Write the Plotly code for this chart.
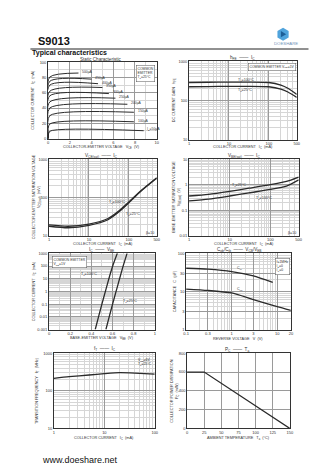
import math
import plotly.graph_objects as go

W, H = 336, 474

# ---- Static characteristic: IC vs VCE for each base current ----
static_ib_ua = [50, 100, 150, 200, 250, 300, 350, 400, 450, 500]
static_vce_knee = [0.15] * 10
static_ic_knee = [9.5, 19, 30, 40, 48, 56, 62, 70, 75, 80.6]
static_vce_end = [8.8, 7.9, 7.9, 7.3, 6.2, 5.6, 5.0, 4.6, 4.0, 2.8]
static_ic_end = [10.3, 22, 34.5, 45, 53, 59, 67, 72, 78, 86]

# ---- hFE vs IC ----
hfe_ic = [1, 3, 10, 30, 100, 200, 300, 500]
hfe_100c = [288, 292, 295, 295, 288, 247, 205, 143]
hfe_25c = [224, 227, 230, 230, 224, 195, 165, 120]

# ---- VCE(sat) vs IC ----
vcesat_ic = [1, 3, 10, 30, 60, 100, 200, 500]
vcesat_25c = [17.5, 16, 18.5, 26, 44, 72, 145, 320]
vcesat_100c = [19, 17.5, 20, 28, 47, 76, 150, 330]

# ---- VBE(sat) vs IC ----
vbesat_ic = [1, 3, 10, 30, 100, 250, 500]
vbesat_25c = [0.36, 0.42, 0.55, 0.73, 1.0, 1.35, 2.0]
vbesat_100c = [0.23, 0.27, 0.36, 0.48, 0.65, 0.88, 1.55]

# ---- IC vs VBE ----
icvbe_ic = [0.001, 0.01, 0.1, 1, 10, 100, 1000]
icvbe_vbe_100c = [0.437, 0.468, 0.500, 0.533, 0.566, 0.602, 0.646]
icvbe_vbe_25c = [0.538, 0.569, 0.601, 0.634, 0.667, 0.701, 0.738]

# ---- Capacitance vs reverse voltage ----
cib_v = [0.1, 0.3, 1, 3, 8]
cib_pf = [40.6, 38.3, 33.3, 25.6, 17.2]
cob_v = [0.1, 0.3, 1, 3, 10, 20]
cob_pf = [11.5, 10.6, 9.1, 6.1, 4.0, 3.2]

# ---- fT vs IC ----
ft_ic = [1, 2, 5, 10, 20, 40, 100]
ft_mhz = [215, 238, 264, 286, 304, 297, 280]

# ---- PC vs Ta ----
pc_ta = [0, 25, 150]
pc_mw = [600, 600, 0]

# tick labels
lin_vce_ticks = [0, 2, 4, 6, 8, 10]
lin_ic_ticks = [0, 20, 40, 60, 80, 100]
log_ic_ticks = [1, 10, 100, 500]
log_gain_ticks = [10, 100, 1000]
log_vcesat_ticks = [10, 100, 1000]
log_vbesat_ticks = [0.01, 0.1, 1, 10]
vbe_ticks = [0, 0.2, 0.4, 0.6, 0.8, 1.0]
log_icvbe_ticks = [0.001, 0.01, 0.1, 1, 10, 100, 1000]
cap_v_ticks = [0.1, 0.3, 1, 3, 10, 20]
cap_pf_ticks = [1, 3, 10, 30, 100]
ft_ic_ticks = [1, 10, 100]
ft_ticks = [10, 100, 1000]
ta_ticks = [0, 25, 50, 75, 100, 125, 150]
pc_ticks = [0, 200, 400, 600, 800]

FONT = "Arial, Liberation Sans, sans-serif"
TXT = "#333333"
LINE = "#2a2a2a"
GRID_MAJ = "#9a9a9a"
GRID_MIN = "#d6d6d6"


def px(x):
    return x / W


def py(y):
    return 1 - y / H


def fmt(v):
    return "%g" % v


def axis(dom, rng, vals, log=False, minor=None):
    d = dict(
        domain=dom, range=rng, tickmode="array", tickvals=vals,
        ticktext=[fmt(v) for v in vals], showgrid=True, gridcolor=GRID_MAJ,
        gridwidth=0.6, showline=True, mirror=True, linecolor="#333333",
        linewidth=0.8, zeroline=False, ticks="", ticklen=0,
        tickfont=dict(size=4, family=FONT, color=TXT),
        fixedrange=True,
    )
    if log:
        d["type"] = "log"
        d["minor"] = dict(dtick="D1", showgrid=True, gridcolor=GRID_MIN,
                          gridwidth=0.4, ticks="")
    elif minor:
        d["minor"] = dict(dtick=minor, showgrid=True, gridcolor=GRID_MIN,
                          gridwidth=0.4, ticks="")
    return d


L10 = math.log10

# plot boxes (left, right, top, bottom) in pixels
boxes = {
    1: (46, 157, 60, 137),
    2: (190, 300, 59, 138),
    3: (47, 157, 158, 235),
    4: (190, 302, 158, 235),
    5: (47, 155, 253, 330),
    6: (187, 294, 253, 330),
    7: (52, 155, 354, 430),
    8: (188, 293, 354, 430),
}


def dom(i):
    l, r, t, b = boxes[i]
    return [px(l), px(r)], [py(b), py(t)]


layout = dict(
    width=W, height=H, margin=dict(l=0, r=0, t=0, b=0),
    paper_bgcolor="white", plot_bgcolor="white", showlegend=False,
    font=dict(family=FONT, color=TXT),
)

xr = {
    1: ([0, 10], lin_vce_ticks, False, 1),
    2: ([0, L10(500)], log_ic_ticks, True, None),
    3: ([0, L10(500)], log_ic_ticks, True, None),
    4: ([0, L10(500)], log_ic_ticks, True, None),
    5: ([0, 1.0], vbe_ticks, False, 0.1),
    6: ([-1, L10(20)], cap_v_ticks, True, None),
    7: ([0, 2], ft_ic_ticks, True, None),
    8: ([0, 150], ta_ticks, False, None),
}
yr = {
    1: ([0, 100], lin_ic_ticks, False, 10),
    2: ([1, 3], log_gain_ticks, True, None),
    3: ([1, 3], log_vcesat_ticks, True, None),
    4: ([-2, 1], log_vbesat_ticks, True, None),
    5: ([-3, 3], log_icvbe_ticks, True, None),
    6: ([0, 2], cap_pf_ticks, True, None),
    7: ([1, 3], ft_ticks, True, None),
    8: ([0, 800], pc_ticks, False, None),
}

for i in range(1, 9):
    dx, dy = dom(i)
    xa = axis(dx, xr[i][0], xr[i][1], log=xr[i][2], minor=xr[i][3])
    ya = axis(dy, yr[i][0], yr[i][1], log=yr[i][2], minor=yr[i][3])
    xa["anchor"] = "y" if i == 1 else "y%d" % i
    ya["anchor"] = "x" if i == 1 else "x%d" % i
    layout["xaxis" if i == 1 else "xaxis%d" % i] = xa
    layout["yaxis" if i == 1 else "yaxis%d" % i] = ya

fig = go.Figure(layout=layout)


def ref(i):
    return ("x", "y") if i == 1 else ("x%d" % i, "y%d" % i)


def line(i, x, y, w=1.3):
    xa, ya = ref(i)
    fig.add_trace(go.Scatter(x=x, y=y, mode="lines", xaxis=xa, yaxis=ya,
                             line=dict(color=LINE, width=w, shape="spline",
                                       smoothing=0.6),
                             hoverinfo="skip"))


# static characteristic curves
for k in range(len(static_ib_ua)):
    line(1, [0, static_vce_knee[k], static_vce_end[k]],
         [0, static_ic_knee[k], static_ic_end[k]], w=1.0)

line(2, hfe_ic, hfe_100c)
line(2, hfe_ic, hfe_25c)
line(3, vcesat_ic, vcesat_100c)
line(3, vcesat_ic, vcesat_25c)
line(4, vbesat_ic, vbesat_25c)
line(4, vbesat_ic, vbesat_100c)
line(5, icvbe_vbe_100c, icvbe_ic)
line(5, icvbe_vbe_25c, icvbe_ic)
line(6, cib_v, cib_pf)
line(6, cob_v, cob_pf)
line(7, ft_ic, ft_mhz)
xa8, ya8 = ref(8)
fig.add_trace(go.Scatter(x=pc_ta, y=pc_mw, mode="lines", xaxis=xa8, yaxis=ya8,
                         line=dict(color=LINE, width=1.3), hoverinfo="skip"))

anns = []


def note(x, y, text, size=4.5, **kw):
    d = dict(x=px(x), y=py(y), xref="paper", yref="paper", text=text,
             showarrow=False, xanchor="center", yanchor="middle",
             font=dict(size=size, family=FONT, color=TXT))
    d.update(kw)
    anns.append(d)


def dnote(i, x, y, text, size=3.6, **kw):
    xa, ya = ref(i)
    d = dict(x=x, y=y, xref=xa, yref=ya, text=text, showarrow=False,
             xanchor="center", yanchor="middle",
             font=dict(size=size, family=FONT, color=TXT))
    d.update(kw)
    anns.append(d)


# header
note(34, 38.5, "<b>S9013</b>", xanchor="left",
     font=dict(size=11, family=FONT, color="#111"))
note(28, 50.7, "<b>Typical characteristics</b>", xanchor="left",
     font=dict(size=7, family=FONT, color="#111"))
note(289.5, 41.2, "DOESHARE", font=dict(size=4.3, family=FONT, color="#6f93b8"))
note(38, 461.5, "www.doeshare.net", xanchor="left",
     font=dict(size=9, family=FONT, color="#111"))

# chart titles
titles = {
    1: (100, 57, "Static Characteristic"),
    2: (245, 55.5, "h<sub>FE</sub>  ——  I<sub>C</sub>"),
    3: (101, 154.5, "V<sub>CE(sat)</sub>  ——  I<sub>C</sub>"),
    4: (246, 154.5, "V<sub>BE(sat)</sub>  ——  I<sub>C</sub>"),
    5: (101, 250, "I<sub>C</sub>  ——  V<sub>BE</sub>"),
    6: (242, 249.5, "C<sub>ob</sub>/C<sub>ib</sub>  ——  V<sub>CB</sub>/V<sub>EB</sub>"),
    7: (104, 350, "f<sub>T</sub>  ——  I<sub>C</sub>"),
    8: (239, 350.5, "P<sub>C</sub>  ——  T<sub>a</sub>"),
}
for i, (x, y, t) in titles.items():
    note(x, y, t, size=4.6)

# x-axis titles
xtitles = {
    1: (101, 146, "COLLECTOR-EMITTER VOLTAGE   V<sub>CE</sub>  (V)"),
    2: (245, 146, "COLLECTOR CURRENT   I<sub>C</sub>  (mA)"),
    3: (102, 244, "COLLECTOR CURRENT   I<sub>C</sub>  (mA)"),
    4: (246, 244, "COLLECTOR CURRENT   I<sub>C</sub>  (mA)"),
    5: (101, 339.5, "BASE-EMITTER VOLTAGE   V<sub>BE</sub>  (V)"),
    6: (240, 339.5, "REVERSE VOLTAGE   V  (V)"),
    7: (103, 440, "COLLECTOR CURRENT   I<sub>C</sub>  (mA)"),
    8: (240, 440, "AMBIENT TEMPERATURE   T<sub>a</sub>  (°C)"),
}
for i, (x, y, t) in xtitles.items():
    note(x, y, t, size=3.8)

# y-axis titles
ytitles = {
    1: (31.5, 98, "COLLECTOR CURRENT   I<sub>C</sub>  (mA)"),
    2: (176, 98, "DC CURRENT GAIN   h<sub>FE</sub>"),
    3: (35, 196, "COLLECTOR-EMITTER SATURATION VOLTAGE<br>V<sub>CE(sat)</sub>  (mV)"),
    4: (177.5, 196, "BASE-EMITTER SATURATION VOLTAGE<br>V<sub>BE(sat)</sub>  (V)"),
    5: (33, 291, "COLLECTOR CURRENT   I<sub>C</sub>  (mA)"),
    6: (176, 291, "CAPACITANCE   C  (pF)"),
    7: (36, 392, "TRANSITION FREQUENCY   f<sub>T</sub>  (MHz)"),
    8: (175.5, 392, "COLLECTOR POWER DISSIPATION<br>P<sub>C</sub>  (mW)"),
}
for i, (x, y, t) in ytitles.items():
    note(x, y, t, size=3.8, textangle=-90)

# in-plot labels: static characteristic base currents
for k, ib in enumerate(static_ib_ua):
    txt = ("I<sub>B</sub>=%dµA" % ib) if k == 0 else ("%dµA" % ib)
    dnote(1, static_vce_end[k] + 0.15, static_ic_end[k] + 1.5, txt,
          size=3.4, xanchor="left")

box_style = dict(bordercolor="#555", borderwidth=0.5, bgcolor="white",
                 borderpad=1, align="left")
dnote(1, 9.85, 97, "COMMON<br>EMITTER<br>T<sub>a</sub>=25°C", size=3.4,
      xanchor="right", yanchor="top", **box_style)

dnote(2, L10(15), L10(330), "T<sub>a</sub>=100°C", xanchor="left")
dnote(2, L10(15), L10(185), "T<sub>a</sub>=25°C", xanchor="left")
dnote(2, L10(480), L10(900), "COMMON EMITTER V<sub>CE</sub>=1V", size=3.4,
      xanchor="right", yanchor="top", **box_style)

dnote(3, L10(28), L10(72), "T<sub>a</sub>=100°C", xanchor="left")
dnote(3, L10(75), L10(36), "T<sub>a</sub>=25°C", xanchor="left")
dnote(3, L10(480), L10(12), "β=10", xanchor="right")

dnote(4, L10(10), L10(0.95), "T<sub>a</sub>=25°C", xanchor="left")
dnote(4, L10(40), L10(0.3), "T<sub>a</sub>=100°C", xanchor="left")
dnote(4, L10(480), L10(0.013), "β=10", xanchor="right")

dnote(5, 0.03, L10(600), "COMMON EMITTER<br>V<sub>CE</sub>=1V", size=3.4,
      xanchor="left", yanchor="top", **box_style)
dnote(5, 0.475, L10(20), "T<sub>a</sub>=100°C", xanchor="right")
dnote(5, 0.68, L10(0.15), "T<sub>a</sub>=25°C", xanchor="left")

dnote(6, L10(1.2), L10(40), "C<sub>ib</sub>", xanchor="left")
dnote(6, L10(1.2), L10(11.5), "C<sub>ob</sub>", xanchor="left")
dnote(6, L10(19), L10(75), "f=1MHz<br>I<sub>E</sub>=0<br>I<sub>C</sub>=0", size=3.4,
      xanchor="right", yanchor="top", **box_style)

dnote(7, L10(95), L10(850), "V<sub>CE</sub>=6V<br>T<sub>a</sub>=25°C", size=3.4,
      xanchor="right", yanchor="top", align="left")

fig.update_layout(annotations=anns)

# header rule
shapes = [dict(type="line", xref="paper", yref="paper", x0=px(28), x1=px(312),
               y0=py(46.5), y1=py(46.5), line=dict(color="#222", width=1))]


def poly(pts):
    return "M " + " L ".join("%f,%f" % (px(x), py(y)) for x, y in pts) + " Z"


# logo mark: hexagon with a play triangle
cx, cy, r = 286, 31.5, 6.6
hexpts = [(cx + r * math.cos(math.radians(a)), cy + r * math.sin(math.radians(a)))
          for a in range(30, 390, 60)]
shapes.append(dict(type="path", xref="paper", yref="paper", path=poly(hexpts),
                   fillcolor="#4fa3dc", line=dict(width=0)))
tri = [(cx - 2.2, cy - 3.2), (cx + 3.2, cy), (cx - 2.2, cy + 3.2)]
shapes.append(dict(type="path", xref="paper", yref="paper", path=poly(tri),
                   fillcolor="#1d5e97", line=dict(width=0)))
fig.update_layout(shapes=shapes)

fig.write_html("out.html")
